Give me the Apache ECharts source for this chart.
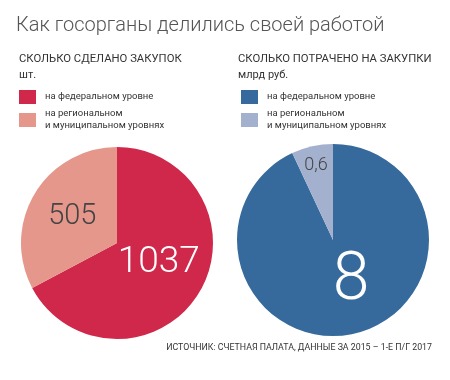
<!DOCTYPE html>
<html><head><meta charset="utf-8">
<script src="https://cdn.jsdelivr.net/npm/echarts@6/dist/echarts.min.js"></script>
<style>html,body{margin:0;padding:0;background:#fff}#c{width:450px;height:380px}</style>
</head><body><div id="c"></div>
<script>
var categories = ['на федеральном уровне', 'на региональном\nи муниципальном уровнях'];
var countValues = [1037, 505];
var countLabels = ['1037', '505'];
var spendValues = [8, 0.6];
var spendLabels = ['8', '0,6'];

var titleText = 'Как госорганы делились своей работой';
var leftHead = 'СКОЛЬКО СДЕЛАНО ЗАКУПОК';
var leftUnit = 'шт.';
var rightHead = 'СКОЛЬКО ПОТРАЧЕНО НА ЗАКУПКИ';
var rightUnit = 'млрд руб.';
var sourceText = 'ИСТОЧНИК: СЧЕТНАЯ ПАЛАТА, ДАННЫЕ ЗА 2015 – 1-Е П/Г 2017';

var FONT = 'Roboto, sans-serif';
var redColors = ['#d0284b', '#e5978b'];
var blueColors = ['#366a9c', '#a3b1cf'];

function leftName(i){ return categories[i]; }
function rightName(i){ return categories[i] + ' '; }

var chart = echarts.init(document.getElementById('c'), null, {renderer:'canvas'});
chart.setOption({
  animation: false,
  title: [
    {text: titleText, left: 16, top: 16, padding: 0, textStyle:{fontFamily: FONT, fontWeight: 300, fontSize: 20, color:'#555'}},
    {text: leftHead, subtext: leftUnit, left: 19, top: 54, padding: 0, itemGap: 5,
     textStyle:{fontFamily: FONT, fontWeight: 'normal', fontSize: 11.3, color:'#333'},
     subtextStyle:{fontFamily: FONT, fontSize: 11, color:'#333'}},
    {text: rightHead, subtext: rightUnit, left: 238, top: 54, padding: 0, itemGap: 5,
     textStyle:{fontFamily: FONT, fontWeight: 'normal', fontSize: 11.3, color:'#333'},
     subtextStyle:{fontFamily: FONT, fontSize: 11, color:'#333'}},
    {text: sourceText, right: 18, top: 343, padding: 0, textStyle:{fontFamily: FONT, fontWeight:'normal', fontSize: 8.8, color:'#333'}}
  ],
  legend: [
    {orient:'vertical', left: 19, top: 90, padding: 0, icon:'rect', itemWidth: 17, itemHeight: 14, itemGap: 4,
     data:[leftName(0), leftName(1)],
     textStyle:{fontFamily: FONT, fontSize: 9.5, color:'#333', lineHeight: 12, padding:[0,0,0,4]}},
    {orient:'vertical', left: 241, top: 90, padding: 0, icon:'rect', itemWidth: 17, itemHeight: 14, itemGap: 4,
     data:[rightName(0), rightName(1)],
     textStyle:{fontFamily: FONT, fontSize: 9.5, color:'#333', lineHeight: 12, padding:[0,0,0,4]}}
  ],
  series: [
    {type:'pie', center:[117, 243], radius:[0, 96], startAngle: 90, clockwise: true,
     labelLine:{show:false}, emphasis:{disabled:true},
     data: countValues.map(function(v,i){
       return {name: leftName(i), value: v, itemStyle:{color: redColors[i]},
         label:{show:true, position:'inside', formatter: countLabels[i],
           fontFamily: FONT, fontWeight: 300,
           fontSize: i===0 ? 37 : 29, color: i===0 ? '#fff' : '#444',
           offset: i===0 ? [-2,-7] : [-1,0]}};
     })},
    {type:'pie', center:[333, 240], radius:[0, 96], startAngle: 90, clockwise: true,
     labelLine:{show:false}, emphasis:{disabled:true},
     data: spendValues.map(function(v,i){
       return {name: rightName(i), value: v, itemStyle:{color: blueColors[i]},
         label:{show:true, position:'inside', formatter: spendLabels[i],
           fontFamily: FONT, fontWeight: 300,
           fontSize: i===0 ? 66 : 18, color: i===0 ? '#fff' : '#444',
           offset: i===0 ? [7,-7] : [-6,-25]}};
     })}
  ]
});
</script></body></html>
